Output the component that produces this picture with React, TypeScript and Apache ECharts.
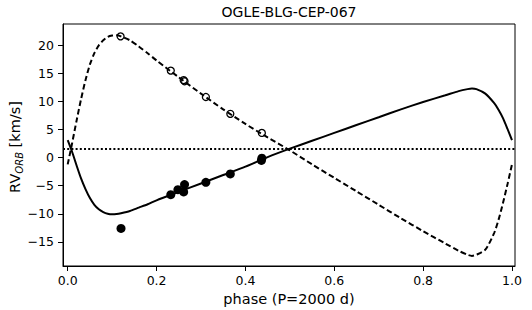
import React, { useEffect, useRef } from "react";
import * as echarts from "echarts";

const titleText = "OGLE-BLG-CEP-067";
const xLabelText = "phase (P=2000 d)";
const xTicks = [0, 0.2, 0.4, 0.6, 0.8, 1.0];
const yTicks = [-15, -10, -5, 0, 5, 10, 15, 20];
const gammaVel = 1.55;

// solid model curve (primary)
const solidPhase = [0, 0.01, 0.02, 0.03, 0.04, 0.05, 0.06, 0.07, 0.08, 0.09, 0.1, 0.11, 0.12, 0.14, 0.16, 0.18, 0.2, 0.25, 0.3, 0.35, 0.4, 0.45, 0.5, 0.55, 0.6, 0.65, 0.7, 0.75, 0.8, 0.85, 0.88, 0.9, 0.91, 0.92, 0.94, 0.96, 0.97, 0.98, 0.99, 1.0];
const solidRV = [3.1, 1.0, -1.4, -3.7, -5.6, -7.2, -8.4, -9.2, -9.7, -10.0, -10.1, -10.05, -9.9, -9.5, -8.9, -8.3, -7.6, -6.1, -4.6, -3.1, -1.6, 0.1, 1.6, 3.0, 4.4, 5.8, 7.2, 8.6, 9.9, 11.1, 11.85, 12.2, 12.3, 12.2, 11.4, 9.7, 8.5, 7.0, 5.1, 3.1];

// dashed model curve (companion)
const dashPhase = [0, 0.01, 0.02, 0.03, 0.04, 0.05, 0.06, 0.07, 0.08, 0.09, 0.1, 0.11, 0.12, 0.14, 0.16, 0.18, 0.2, 0.25, 0.3, 0.35, 0.4, 0.45, 0.5, 0.55, 0.6, 0.65, 0.7, 0.75, 0.8, 0.85, 0.88, 0.9, 0.91, 0.92, 0.94, 0.96, 0.97, 0.98, 0.99, 1.0];
const dashRV = [-1.2, 2.6, 6.6, 10.4, 13.8, 16.6, 18.6, 20.0, 20.9, 21.5, 21.75, 21.8, 21.6, 20.9, 19.8, 18.6, 17.3, 14.3, 11.4, 8.6, 6.0, 3.6, 1.3, -1.2, -3.6, -6.0, -8.4, -10.8, -13.1, -15.3, -16.6, -17.3, -17.5, -17.3, -16.4, -13.4, -11.0, -8.0, -4.7, -1.2];

// observed points
const obsPhaseA = [0.12, 0.232, 0.248, 0.263, 0.261, 0.311, 0.366, 0.436, 0.437];
const obsRVA = [-12.6, -6.6, -5.7, -4.8, -6.1, -4.4, -2.9, -0.5, -0.1];
const obsPhaseB = [0.119, 0.232, 0.261, 0.263, 0.311, 0.366, 0.437];
const obsRVB = [21.6, 15.5, 13.8, 13.6, 10.8, 7.8, 4.4];

const X_MIN = -0.0106;
const X_MAX = 1.0068;
const Y_MIN = -19.3;
const Y_MAX = 23.8;

const FONT = "DejaVu Sans";

export default function App() {
  const ref = useRef<HTMLDivElement>(null);
  useEffect(() => {
    document.body.style.margin = "0";
    if (!ref.current) return;
    const chart = echarts.init(ref.current, undefined, { renderer: "svg" });
    const zip = (a: number[], b: number[]) => a.map((v, i) => [v, b[i]]);
    const gridLeft = 63;
    const gridRight = 17;
    const gridTop = 24;
    const gridBottom = 44;
    const plotCx = gridLeft + (532 - gridLeft - gridRight) / 2;
    const plotCy = gridTop + (310 - gridTop - gridBottom) / 2;
    chart.setOption({
      animation: false,
      backgroundColor: "#ffffff",
      textStyle: { fontFamily: FONT },
      grid: {
        left: gridLeft,
        right: gridRight,
        top: gridTop,
        bottom: gridBottom,
        show: true,
        borderColor: "#000",
        borderWidth: 1,
        backgroundColor: "transparent",
        containLabel: false,
        outerBoundsMode: "none",
      },
      xAxis: {
        type: "value",
        min: X_MIN,
        max: X_MAX,
        splitLine: { show: false },
        axisLine: { show: true, onZero: false, lineStyle: { color: "#000", width: 1 } },
        axisTick: { show: true, inside: false, length: 5, customValues: xTicks, lineStyle: { color: "#000" } },
        axisLabel: {
          customValues: xTicks,
          margin: 8,
          fontSize: 12.5,
          color: "#000",
          fontFamily: FONT,
          formatter: (v: number) => v.toFixed(1),
        },
      },
      yAxis: {
        type: "value",
        min: Y_MIN,
        max: Y_MAX,
        splitLine: { show: false },
        axisLine: { show: true, onZero: false, lineStyle: { color: "#000", width: 1 } },
        axisTick: { show: true, inside: false, length: 5, customValues: yTicks, lineStyle: { color: "#000" } },
        axisLabel: {
          customValues: yTicks,
          margin: 9,
          fontSize: 12.5,
          color: "#000",
          fontFamily: FONT,
          formatter: (v: number) => String(Math.round(v)).replace("-", "\u2212"),
        },
      },
      graphic: [
        {
          type: "text",
          x: plotCx,
          y: 12,
          style: {
            text: titleText,
            fontSize: 14,
            fontFamily: FONT,
            fill: "#000",
            align: "center",
            verticalAlign: "middle",
          },
        },
        {
          type: "text",
          x: plotCx,
          y: 299,
          style: {
            text: xLabelText,
            fontSize: 14.5,
            fontFamily: FONT,
            fill: "#000",
            align: "center",
            verticalAlign: "middle",
          },
        },
        {
          type: "text",
          x: 15,
          y: plotCy + 2,
          rotation: Math.PI / 2,
          style: {
            text: "{a|RV}{s|ORB}{a| [km/s]}",
            align: "center",
            verticalAlign: "middle",
            rich: {
              a: { fontSize: 14.5, fontFamily: FONT, fill: "#000", lineHeight: 18 },
              s: { fontSize: 10, fontFamily: FONT, fontStyle: "italic", fill: "#000", lineHeight: 10, verticalAlign: "bottom" },
            },
          },
        },
      ],
      series: [
        {
          type: "line",
          data: [[X_MIN, gammaVel], [X_MAX, gammaVel]],
          showSymbol: false,
          lineStyle: { color: "#000", width: 2, type: [2, 2.2] },
          z: 2,
          silent: true,
        },
        {
          type: "scatter",
          data: zip(obsPhaseA, obsRVA),
          symbol: "circle",
          symbolSize: 9,
          itemStyle: { color: "#000", opacity: 1 },
          z: 3,
        },
        {
          type: "scatter",
          data: zip(obsPhaseB, obsRVB),
          symbol: "circle",
          symbolSize: 7,
          itemStyle: { color: "rgba(0,0,0,0)", borderColor: "#000", borderWidth: 1.3, opacity: 1 },
          z: 3,
        },
        {
          type: "line",
          data: zip(solidPhase, solidRV),
          showSymbol: false,
          smooth: 0.25,
          lineStyle: { color: "#000", width: 2, type: "solid" },
          z: 4,
          silent: true,
        },
        {
          type: "line",
          data: zip(dashPhase, dashRV),
          showSymbol: false,
          smooth: 0.25,
          lineStyle: { color: "#000", width: 2, type: [5.5, 3] },
          z: 4,
          silent: true,
        },
      ],
    });
    return () => chart.dispose();
  }, []);
  return <div ref={ref} style={{ width: 532, height: 310 }} />;
}
